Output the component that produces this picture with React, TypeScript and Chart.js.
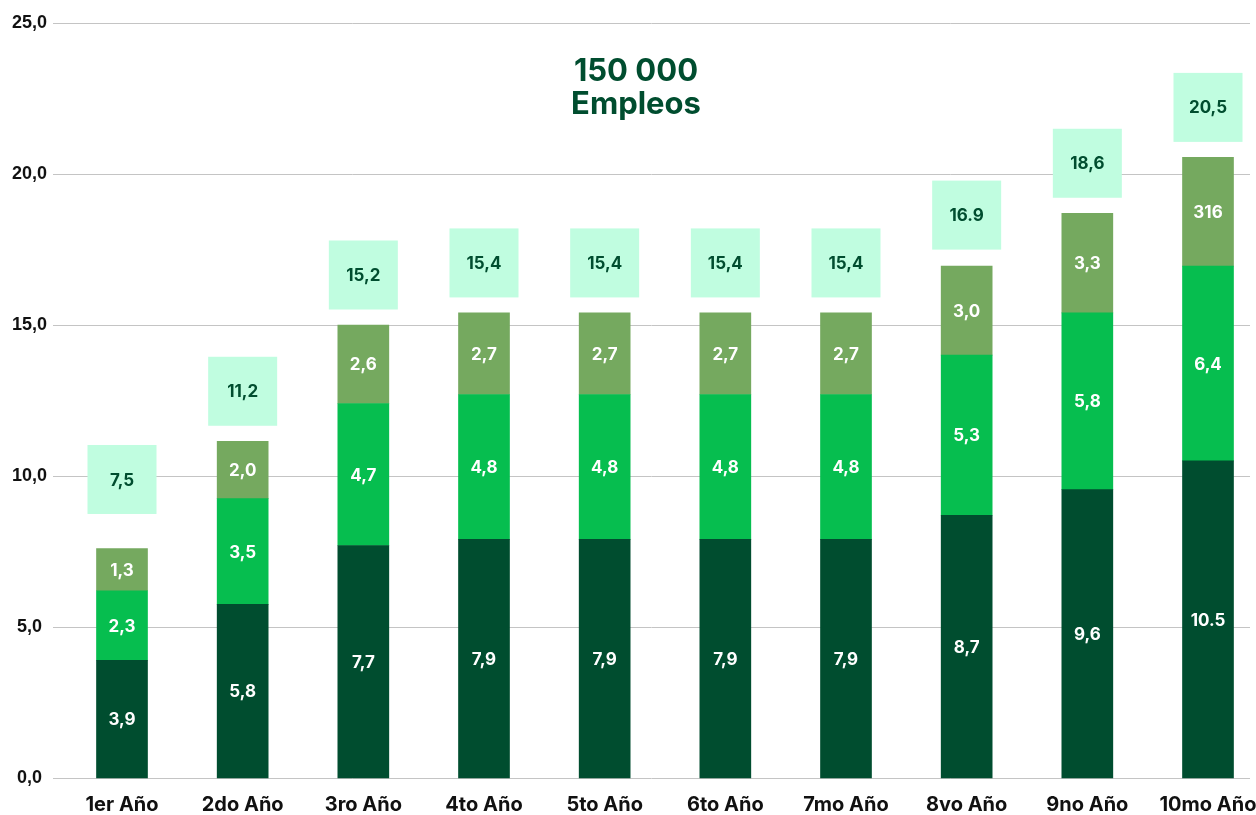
import React, { useEffect, useRef } from "react";
import { Chart, registerables } from "chart.js";

Chart.register(...registerables);

const categories = ["1er Año", "2do Año", "3ro Año", "4to Año", "5to Año", "6to Año", "7mo Año", "8vo Año", "9no Año", "10mo Año"];
const baseValues = [3.9, 5.75, 7.7, 7.9, 7.9, 7.9, 7.9, 8.7, 9.55, 10.5];
const midValues = [2.3, 3.5, 4.7, 4.8, 4.8, 4.8, 4.8, 5.3, 5.85, 6.45];
const topValues = [1.4, 1.9, 2.6, 2.7, 2.7, 2.7, 2.7, 2.95, 3.3, 3.6];
const baseLabels = ["3,9", "5,8", "7,7", "7,9", "7,9", "7,9", "7,9", "8,7", "9,6", "10.5"];
const midLabels = ["2,3", "3,5", "4,7", "4,8", "4,8", "4,8", "4,8", "5,3", "5,8", "6,4"];
const topLabels = ["1,3", "2,0", "2,6", "2,7", "2,7", "2,7", "2,7", "3,0", "3,3", "316"];
const totalLabels = ["7,5", "11,2", "15,2", "15,4", "15,4", "15,4", "15,4", "16.9", "18,6", "20,5"];
const yTicks = [0, 5, 10, 15, 20, 25];
const titleLines = ["150 000", "Empleos"];

const DARK = "#004D2F";
const MID = "#06BE4F";
const OLIVE = "#75A95F";
const MINT = "#C0FDE0";
const FONT = "Inter, 'Noto Sans', sans-serif";

const segmentLabels = [baseLabels, midLabels, topLabels];

const customPlugin = {
  id: "customDraw",
  beforeDatasetsDraw(chart: any) {
    const ctx = chart.ctx;
    const y = chart.scales.y;
    const area = chart.chartArea;
    ctx.save();
    ctx.strokeStyle = "#C4C4C4";
    ctx.lineWidth = 1;
    yTicks.forEach((v) => {
      const py = Math.round(y.getPixelForValue(v)) + 0.5;
      ctx.beginPath();
      ctx.moveTo(area.left - 69, py);
      ctx.lineTo(area.right + 42, py);
      ctx.stroke();
    });
    ctx.fillStyle = DARK;
    ctx.font = `700 31px ${FONT}`;
    ctx.textAlign = "center";
    ctx.textBaseline = "middle";
    const cx = chart.width / 2 + 8;
    ctx.fillText(titleLines[0], cx, 72);
    ctx.fillText(titleLines[1], cx, 105);
    ctx.restore();
  },
  afterDatasetsDraw(chart: any) {
    const ctx = chart.ctx;
    ctx.save();
    ctx.textAlign = "center";
    ctx.textBaseline = "middle";
    ctx.font = `700 17px ${FONT}`;
    ctx.fillStyle = "#FFFFFF";
    chart.data.datasets.forEach((_: any, di: number) => {
      const meta = chart.getDatasetMeta(di);
      meta.data.forEach((el: any, i: number) => {
        const cy = (el.y + el.base) / 2;
        ctx.fillText(segmentLabels[di][i], el.x, cy + 1);
      });
    });
    const topMeta = chart.getDatasetMeta(2);
    const lifts = [19, 0, 0, 0, 0, 0, 0, 1, 0, 0];
    topMeta.data.forEach((el: any, i: number) => {
      const cy = el.y - 50 - lifts[i];
      ctx.fillStyle = MINT;
      ctx.fillRect(el.x - 34.5, cy - 34.5, 69, 69);
      ctx.fillStyle = DARK;
      ctx.font = `700 17px ${FONT}`;
      ctx.fillText(totalLabels[i], el.x, cy + 1);
    });
    ctx.restore();
  },
};

export default function App() {
  const ref = useRef<HTMLCanvasElement>(null);
  useEffect(() => {
    document.body.style.margin = "0";
    const canvas = ref.current!;
    const chart = new Chart(canvas, {
      type: "bar",
      data: {
        labels: categories,
        datasets: [
          { data: baseValues, backgroundColor: DARK, barThickness: 51, clip: false as any },
          { data: midValues, backgroundColor: MID, barThickness: 51, clip: false as any },
          { data: topValues, backgroundColor: OLIVE, barThickness: 51, clip: false as any },
        ],
      },
      options: {
        responsive: false,
        animation: false,
        layout: { padding: { top: 23, right: 48, bottom: 0, left: 0 } },
        plugins: { legend: { display: false }, tooltip: { enabled: false } },
        scales: {
          x: {
            stacked: true,
            offset: false,
            grid: { display: false, drawTicks: false },
            border: { display: false },
            afterFit(scale: any) {
              scale.height = 37;
              scale.paddingLeft = 0;
              scale.paddingRight = 0;
            },
            ticks: {
              padding: 15,
              maxRotation: 0,
              minRotation: 0,
              autoSkip: false,
              color: "#111111",
              font: { family: FONT, size: 20, weight: "bold" },
            },
          },
          y: {
            stacked: true,
            min: 0,
            max: 25,
            grid: { display: false, drawTicks: false },
            border: { display: false },
            afterFit(scale: any) {
              scale.width = 122;
              scale.paddingTop = 0;
              scale.paddingBottom = 0;
            },
            ticks: {
              stepSize: 5,
              padding: 75,
              crossAlign: "center",
              color: "#111111",
              font: { family: "'Liberation Sans', Arial, sans-serif", size: 18, weight: "bold" },
              callback: (v: any) => Number(v).toFixed(1).replace(".", ","),
            },
          },
        },
      },
      plugins: [customPlugin],
    });
    return () => chart.destroy();
  }, []);
  return (
    <div style={{ width: 1256, height: 815, background: "#fff" }}>
      <canvas ref={ref} width={1256} height={815} style={{ display: "block" }} />
    </div>
  );
}
